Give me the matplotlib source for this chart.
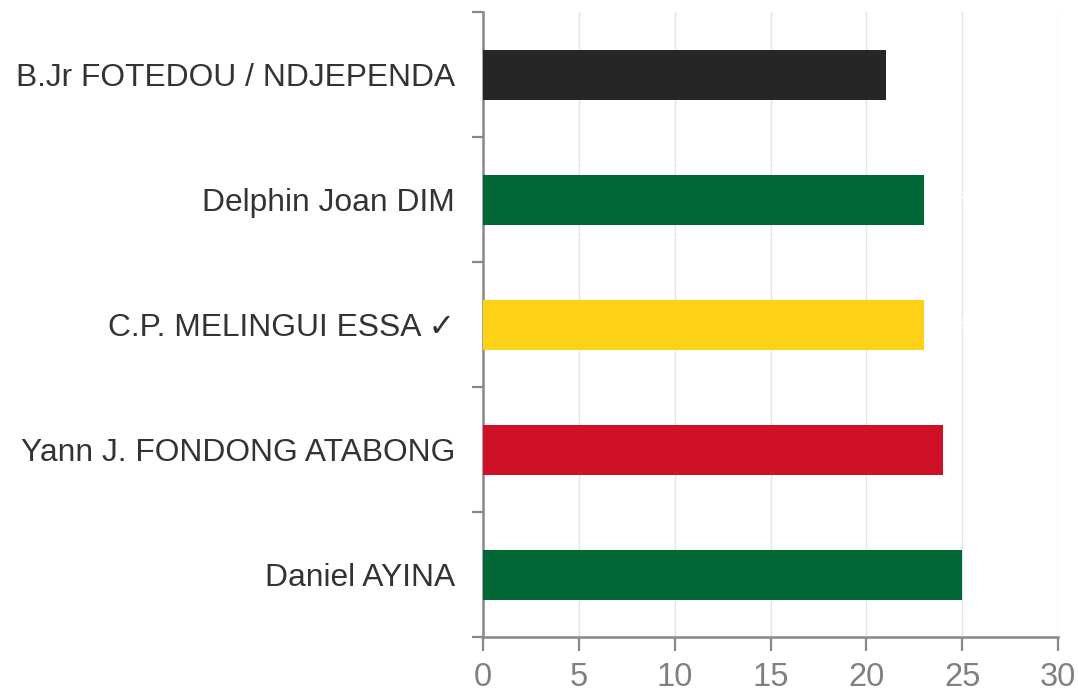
import matplotlib
matplotlib.use("Agg")
import matplotlib.pyplot as plt
import numpy as np

names = ["B.Jr FOTEDOU / NDJEPENDA", "Delphin Joan DIM", "C.P. MELINGUI ESSA \u2713",
         "Yann J. FONDONG ATABONG", "Daniel AYINA"]
values = [21, 23, 23, 24, 25]
colors = ["#262626", "#006633", "#FCD116", "#CE1126", "#006633"]
xticks = [0, 5, 10, 15, 20, 25, 30]

plt.rcParams['font.family'] = ['Liberation Sans', 'DejaVu Sans']

fig = plt.figure(figsize=(10.78, 6.91), dpi=100)
ax = fig.add_axes([483/1078, 1-637/691, 575/1078, 625/691])

y = np.arange(len(names))
ax.barh(y, values, height=0.4, color=colors, zorder=3)
for yi, v in zip(y, values):
    ax.text(v + 1.2, yi, str(v), color="white", va="center", ha="left", fontsize=12, zorder=4)

ax.set_xlim(0, 30)
ax.set_ylim(len(names) - 0.5, -0.5)
ax.set_xticks(xticks)
ax.set_xticklabels([str(t) for t in xticks], fontsize=23.5, color="#808080")
ax.set_yticks(y)
ax.set_yticklabels(names, fontsize=22.9, color="#333333")
ax.set_yticks(np.arange(-0.5, len(names), 1), minor=True)
ax.tick_params(axis='y', which='major', length=0, pad=20)
ax.tick_params(axis='y', which='minor', length=8, width=1.6, color="#888888", direction='out')
ax.tick_params(axis='x', which='major', length=10, width=1.6, color="#888888", direction='out', pad=8)

ax.grid(axis='x', color="#e3e4ef", linewidth=1, zorder=0)
for s in ['top', 'right']:
    ax.spines[s].set_visible(False)
for s in ['left', 'bottom']:
    ax.spines[s].set_color("#888888")
    ax.spines[s].set_linewidth(1.8)

fig.savefig("out.png", dpi=100)
